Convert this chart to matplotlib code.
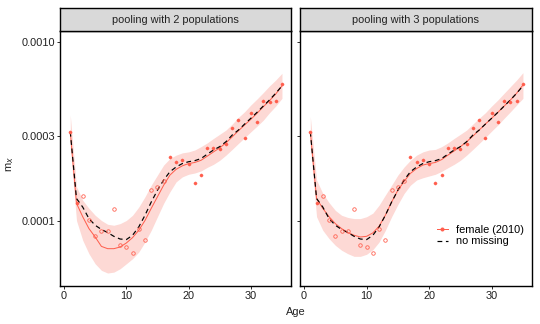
import matplotlib
matplotlib.use("Agg")
import matplotlib.pyplot as plt
from matplotlib.lines import Line2D

plt.rcParams['font.family'] = ['Liberation Sans', 'DejaVu Sans']

# Alder 1-35
age = list(range(1, 36))

# Observerade dödstal (samma i båda panelerna), värden x 1e-4
obs = [3.16, 1.26, 1.39, 1.01, 0.83, 0.883, 0.88, 1.17, 0.738, 0.718,
       0.665, 0.902, 0.79, 1.50, 1.56, 1.68, 2.29, 2.14, 2.19, 2.08,
       1.63, 1.82, 2.55, 2.56, 2.53, 2.70, 3.31, 3.67, 2.90, 4.02,
       3.57, 4.68, 4.66, 4.68, 5.82]
# True = saknad (öppen cirkel), False = observerad (fylld)
missing = [False, False] + [True] * 14 + [False] * 19

# Kurva utan saknade värden (svart streckad)
no_missing = [3.16, 1.34, 1.20, 1.035, 0.95, 0.90, 0.865, 0.824, 0.796, 0.79,
              0.835, 0.93, 1.08, 1.28, 1.49, 1.70, 1.89, 2.01, 2.10, 2.15,
              2.18, 2.24, 2.37, 2.50, 2.61, 2.78, 3.03, 3.23, 3.49, 3.76,
              4.06, 4.40, 4.76, 5.19, 5.70]

# Panel 1: pooling med 2 populationer
fit2 = [3.16, 1.26, 1.06, 0.91, 0.817, 0.724, 0.703, 0.703, 0.718, 0.756,
        0.81, 0.89, 1.01, 1.18, 1.37, 1.59, 1.81, 1.95, 2.04, 2.10,
        2.13, 2.19, 2.31, 2.44, 2.57, 2.74, 2.96, 3.20, 3.45, 3.71,
        4.01, 4.36, 4.72, 5.14, 5.70]
upper2 = [3.92, 1.56, 1.31, 1.18, 1.08, 1.01, 0.962, 0.95, 0.97, 1.01,
          1.08, 1.20, 1.37, 1.59, 1.81, 2.06, 2.24, 2.34, 2.41, 2.44,
          2.50, 2.61, 2.74, 2.90, 3.06, 3.23, 3.49, 3.80, 4.09, 4.46,
          4.82, 5.23, 5.70, 6.15, 6.70]
lower2 = [2.61, 1.01, 0.783, 0.659, 0.579, 0.532, 0.514, 0.52, 0.543, 0.579,
          0.618, 0.673, 0.766, 0.89, 1.06, 1.26, 1.46, 1.66, 1.77, 1.83,
          1.86, 1.91, 2.00, 2.08, 2.19, 2.34, 2.52, 2.72, 2.93, 3.16,
          3.40, 3.67, 4.04, 4.40, 4.86]

# Panel 2: pooling med 3 populationer
fit3 = [3.16, 1.34, 1.18, 1.06, 0.97, 0.91, 0.865, 0.835, 0.817, 0.824,
        0.861, 0.938, 1.08, 1.28, 1.49, 1.67, 1.85, 1.97, 2.06, 2.10,
        2.13, 2.21, 2.34, 2.47, 2.61, 2.78, 2.99, 3.23, 3.49, 3.76,
        4.06, 4.40, 4.76, 5.19, 5.77]
upper3 = [3.84, 1.70, 1.43, 1.27, 1.15, 1.08, 1.05, 1.035, 1.035, 1.06,
          1.11, 1.23, 1.40, 1.59, 1.81, 2.01, 2.19, 2.34, 2.44, 2.50,
          2.52, 2.61, 2.74, 2.90, 3.06, 3.23, 3.49, 3.76, 4.04, 4.40,
          4.76, 5.19, 5.65, 6.15, 6.76]
lower3 = [2.61, 1.06, 0.89, 0.80, 0.734, 0.689, 0.659, 0.637, 0.637, 0.654,
          0.694, 0.766, 0.89, 1.06, 1.24, 1.43, 1.59, 1.70, 1.75, 1.79,
          1.83, 1.90, 1.99, 2.08, 2.19, 2.34, 2.52, 2.72, 2.94, 3.19,
          3.45, 3.76, 4.09, 4.46, 4.86]

titles = ["pooling with 2 populations", "pooling with 3 populations"]
yticks = [0.0001, 0.0003, 0.0010]
ytick_labels = ["0.0001", "0.0003", "0.0010"]

red = "#FF5E4D"
band = "#FDD9D5"
fs = 11

fig = plt.figure(figsize=(7.5, 4.5), dpi=72)
boxes = [[60 / 540, 38 / 324, 231 / 540, 255 / 324],
         [300 / 540, 38 / 324, 232 / 540, 255 / 324]]

panels = [(fit2, upper2, lower2), (fit3, upper3, lower3)]
scale = 1e-4

for i in range(2):
    fit, upper, lower = panels[i]
    ax = fig.add_axes(boxes[i])
    ax.set_yscale("log")
    ax.fill_between(age, [u * scale for u in upper], [l * scale for l in lower],
                    color=band, lw=0, zorder=1)
    ax.plot(age, [f * scale for f in fit], color=red, lw=1.0, zorder=2)
    ax.plot(age, [n * scale for n in no_missing], color="black", lw=1.2,
            dashes=(4, 3), zorder=3)
    for a, v, m in zip(age, obs, missing):
        if m:
            ax.plot(a, v * scale, "o", ms=3.5, mfc="none", mec=red, mew=0.8, zorder=4)
        else:
            ax.plot(a, v * scale, "o", ms=3.2, mfc=red, mec=red, mew=0.3, zorder=4)

    ax.set_xlim(-0.65, 36.45)
    ax.set_ylim(4.35e-5, 1.155e-3)
    ax.set_xticks([0, 10, 20, 30])
    ax.minorticks_off()
    ax.set_yticks(yticks)
    if i == 0:
        ax.set_yticklabels(ytick_labels)
    else:
        ax.set_yticklabels([])
        ax.tick_params(axis="y", length=0)
    ax.tick_params(labelsize=fs, length=3, width=0.8, color="black", pad=2,
                   labelcolor="#222222")
    for s in ax.spines.values():
        s.set_linewidth(1.4)

    # Rubrikremsa ovanför panelen
    sx = fig.add_axes([boxes[i][0], 293 / 324, boxes[i][2], 23 / 324])
    sx.set_facecolor("#D9D9D9")
    sx.set_xticks([])
    sx.set_yticks([])
    for s in sx.spines.values():
        s.set_linewidth(1.4)
    sx.text(0.5, 0.48, titles[i], ha="center", va="center", fontsize=fs,
            color="#222222", transform=sx.transAxes)

    if i == 1:
        handles = [Line2D([], [], color=red, lw=1.0, marker="o", ms=3),
                   Line2D([], [], color="black", lw=1.2, dashes=(4, 3))]
        ax.legend(handles, ["female (2010)", "no missing"], loc="lower right",
                  bbox_to_anchor=(1.0, 0.125), frameon=False, fontsize=fs,
                  handlelength=1.0, handletextpad=0.8, labelspacing=0.1,
                  borderaxespad=0.3)

fig.text(296 / 540, 12 / 324, "Age", ha="center", va="center", fontsize=fs,
         color="#222222")
fig.text(10 / 540, 160 / 324, "m$_x$", ha="center", va="center", rotation=90,
         fontsize=fs, color="#222222")

fig.savefig("out.png", dpi=72)
